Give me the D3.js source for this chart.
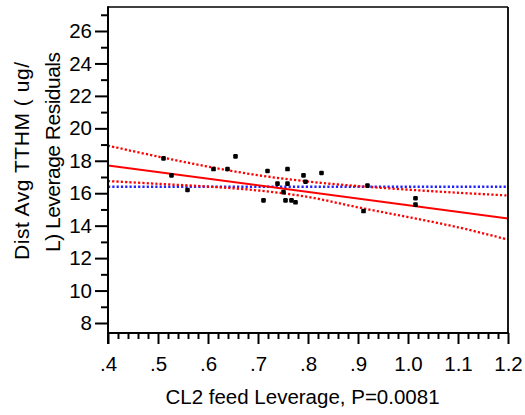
<!DOCTYPE html>
<html>
<head>
<meta charset="utf-8">
<script src="https://cdn.jsdelivr.net/npm/d3@7/dist/d3.min.js"></script>
<style>
  html, body { margin: 0; padding: 0; background: #fff; }
  text { font-family: "Liberation Sans", Arial, sans-serif; fill: #000; }
</style>
</head>
<body>
<svg id="chart" width="525" height="415"></svg>
<script>
// ---- data ----
const pointX = [0.511, 0.527, 0.559, 0.611, 0.639, 0.655, 0.711, 0.719, 0.739, 0.751, 0.755,
                0.759, 0.759, 0.767, 0.775, 0.791, 0.795, 0.827, 0.911, 0.919, 1.015, 1.015];
const pointY = [18.15, 17.10, 16.20, 17.49, 17.49, 18.27, 15.56, 17.37, 16.59, 16.07, 15.56,
                17.49, 16.59, 15.56, 15.44, 17.10, 16.71, 17.25, 14.90, 16.47, 15.69, 15.30];

const fitX = [0.4, 1.2];
const fitY = [17.71, 14.44];

const meanY = 16.40;

const bandX = [0.4, 0.5, 0.6, 0.7, 0.8, 0.9, 1.0, 1.1, 1.2];
const upperY = [18.93, 18.26, 17.64, 17.11, 16.72, 16.44, 16.22, 16.03, 15.86];
const lowerY = [16.75, 16.58, 16.41, 16.17, 15.77, 15.13, 14.53, 13.90, 13.14];

const xTicks = [0.4, 0.5, 0.6, 0.7, 0.8, 0.9, 1.0, 1.1, 1.2];
const xTickLabels = [".4", ".5", ".6", ".7", ".8", ".9", "1.0", "1.1", "1.2"];
const yTicks = [8, 10, 12, 14, 16, 18, 20, 22, 24, 26];

const xTitle = "CL2 feed Leverage, P=0.0081";
const yTitleLines = ["Dist Avg TTHM ( ug/", "L) Leverage Residuals"];

// ---- layout ----
const L = 108, R = 508, T = 7, B = 333;
const svg = d3.select("#chart");

const x = d3.scaleLinear().domain([0.4, 1.2]).range([L, R]);
const y = d3.scaleLinear().domain([8, 26]).range([323, 31]);

svg.append("defs").append("clipPath").attr("id", "plotclip")
  .append("rect").attr("x", L).attr("y", T).attr("width", R - L).attr("height", B - T);

const plot = svg.append("g").attr("clip-path", "url(#plotclip)");

// mean line (blue dotted)
plot.append("line")
  .attr("x1", x(0.4)).attr("x2", x(1.2))
  .attr("y1", y(meanY)).attr("y2", y(meanY))
  .attr("stroke", "#2222ff").attr("stroke-width", 2.3)
  .attr("stroke-dasharray", "2.2,2.1");

// confidence bands (red dotted)
const bandLine = (arr) => d3.line()
  .x((d, i) => x(bandX[i])).y((d) => y(d))
  .curve(d3.curveCatmullRom)(arr);

[upperY, lowerY].forEach(arr => {
  plot.append("path")
    .attr("d", bandLine(arr))
    .attr("fill", "none")
    .attr("stroke", "#ff0000").attr("stroke-width", 2.3)
    .attr("stroke-dasharray", "2.2,2.1");
});

// fit line (red solid)
plot.append("path")
  .attr("d", d3.line().x((d, i) => x(fitX[i])).y(d => y(d))(fitY))
  .attr("fill", "none").attr("stroke", "#ff0000").attr("stroke-width", 2);

// points
plot.selectAll("rect.pt").data(pointX).enter().append("rect")
  .attr("class", "pt")
  .attr("x", (d) => x(d) - 2.3)
  .attr("y", (d, i) => y(pointY[i]) - 2.3)
  .attr("width", 4.6).attr("height", 4.6)
  .attr("rx", 1.2)
  .attr("fill", "#000");

// ---- axes ----
// frame
svg.append("line").attr("x1", L).attr("x2", R).attr("y1", T).attr("y2", T)
  .attr("stroke", "#000").attr("stroke-width", 1.5);
svg.append("line").attr("x1", R).attr("x2", R).attr("y1", T).attr("y2", B)
  .attr("stroke", "#000").attr("stroke-width", 1.8);

// y axis
const yMinor = d3.range(9, 28, 2);
const yAxisMajor = d3.axisLeft(y).tickValues(yTicks).tickSize(13).tickPadding(3).tickFormat(d3.format("d"));
const yAxisMinor = d3.axisLeft(y).tickValues(yMinor).tickSize(7).tickFormat("");
const gyMinor = svg.append("g").attr("transform", `translate(${L},0)`).call(yAxisMinor);
const gy = svg.append("g").attr("transform", `translate(${L},0)`).call(yAxisMajor);
[gy, gyMinor].forEach(g => {
  g.select(".domain").remove();
  g.selectAll(".tick line").attr("stroke", "#000").attr("stroke-width", 2);
});
gy.selectAll(".tick text").style("font-size", "20.5px")
  .style("font-family", '"Liberation Sans", Arial, sans-serif').attr("fill", "#000");
svg.append("line").attr("x1", L).attr("x2", L).attr("y1", T - 0.75).attr("y2", B + 11)
  .attr("stroke", "#000").attr("stroke-width", 2);

// x axis
const xMinor = d3.range(0, 41).map(i => 0.4 + i * 0.02).filter((v, i) => i % 5 !== 0);
const xAxisMajor = d3.axisBottom(x).tickValues(xTicks).tickSize(11).tickPadding(11)
  .tickFormat((d, i) => xTickLabels[i]);
const xAxisMinor = d3.axisBottom(x).tickValues(xMinor).tickSize(6).tickFormat("");
const gxMinor = svg.append("g").attr("transform", `translate(0,${B})`).call(xAxisMinor);
const gx = svg.append("g").attr("transform", `translate(0,${B})`).call(xAxisMajor);
[gx, gxMinor].forEach(g => {
  g.select(".domain").remove();
  g.selectAll(".tick line").attr("stroke", "#000").attr("stroke-width", 2);
});
gx.selectAll(".tick text").style("font-size", "20.5px")
  .style("font-family", '"Liberation Sans", Arial, sans-serif').attr("fill", "#000");
// keep tick line length while text sits lower
gx.selectAll(".tick text").attr("y", 23);
svg.append("line").attr("x1", L - 1).attr("x2", R + 1).attr("y1", B).attr("y2", B)
  .attr("stroke", "#000").attr("stroke-width", 2);

// titles
svg.append("text")
  .attr("x", 302.5).attr("y", 404)
  .attr("text-anchor", "middle")
  .style("font-size", "20.5px")
  .text(xTitle);

const yTitleX = [28.5, 60];
const yTitleC = [161, 152];
const yTitleLen = [198, 200];
yTitleLines.forEach((t, i) => {
  svg.append("text")
    .attr("transform", `translate(${yTitleX[i]},${yTitleC[i]}) rotate(-90)`)
    .attr("text-anchor", "middle")
    .attr("textLength", yTitleLen[i])
    .attr("lengthAdjust", "spacing")
    .style("font-size", "21px")
    .text(t);
});
</script>
</body>
</html>
